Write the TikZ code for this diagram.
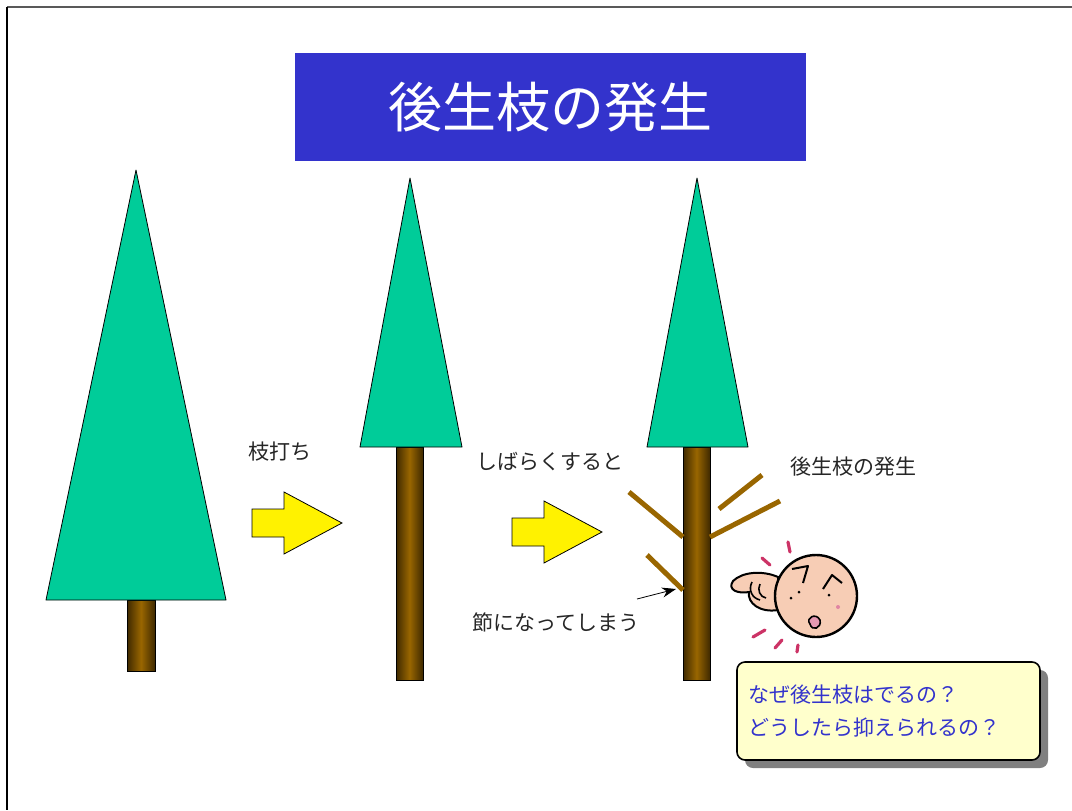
\documentclass[tikz,border=0pt]{standalone}
\usepackage{fontspec}
\setmainfont{Noto Sans CJK JP}
\usepackage{tikz}
\usetikzlibrary{arrows.meta, shadows}

\definecolor{titleblue}{HTML}{3333CC}
\definecolor{crown}{HTML}{00CC99}
\definecolor{wood}{HTML}{996600}
\definecolor{darkwood}{HTML}{3F2900}
\definecolor{note}{HTML}{FFFFCC}
\definecolor{skin}{HTML}{F7CDB5}
\definecolor{blush}{HTML}{CC3366}

\begin{document}
\begin{tikzpicture}[x=0.5pt, y=-0.5pt,
  crownshape/.style={fill=crown, draw=black, line join=round},
  trunkshape/.style={left color=darkwood, right color=darkwood, middle color=wood, draw=black},
  blockarrow/.style={fill=yellow, draw=black, line join=miter},
  sprout/.style={wood, line width=2.5pt},
  caption/.style={font=\fontsize{10.5}{12}\selectfont, text=black!85},
  qbox/.style={draw=black, fill=note, rounded corners=4pt, thick,
    minimum width=151.5pt, minimum height=49pt, text width=140.5pt, align=left,
    font=\fontsize{10.5}{16.5}\selectfont, text=titleblue,
    drop shadow={shadow xshift=4pt, shadow yshift=-4pt, fill=gray, opacity=1}},
  pinkmark/.style={blush, line width=1.6pt, line cap=round}]
\useasboundingbox (0,0) rectangle (1072,810);
% frame lines
\draw[black!65, line width=1pt] (7,7) -- (1072,7);
\draw[black, line width=1pt] (7,7) -- (7,810);

\node[fill=titleblue, minimum width=255.5pt, minimum height=54pt,
  text=white, font=\fontsize{27}{32}\selectfont] (title) at (550.5,107) {後生枝の発生};

% trees: trunk first, crown on top
\draw[trunkshape] (127,600) rectangle (155,671);
\draw[crownshape] (136,170) -- (226,600) -- (46,600) -- cycle;
\draw[trunkshape] (396,447) rectangle (423,680);
\draw[crownshape] (410,178) -- (462,447) -- (360,447) -- cycle;
\draw[trunkshape] (683,447) rectangle (710,680);
\draw[crownshape] (697,178) -- (748,447) -- (647,447) -- cycle;

% new shoots on the last trunk
\draw[sprout] (629,492) -- (683,537);
\draw[sprout] (647,555) -- (683,590);
\draw[sprout] (762,475) -- (719,509);
\draw[sprout] (780,501) -- (710,537);

\foreach \dx/\dy in {0/0, 260/9}
  \filldraw[blockarrow, shift={(\dx,\dy)}] (252,509) -- (284,509) -- (284,492)
    -- (342,523) -- (284,554) -- (284,537) -- (252,537) -- cycle;

\node[caption] (prune) at (280,452) {枝打ち};
\node[caption] (later) at (550,462) {しばらくすると};
\node[caption] (sprouts) at (853,467) {後生枝の発生};
\node[caption] (knot) at (556,622) {節になってしまう};
\coordinate (knottail) at (637,599);
\coordinate (knothead) at (676,589);
\draw[-{Stealth[length=7pt,width=5pt]}, thin] (knottail) -- (knothead);

% puzzled face
\filldraw[skin, draw=black, line width=1pt] (778,577) .. controls (762,570) and (742,572) .. (733,581)
  .. controls (727,590) and (738,594) .. (749,592) .. controls (747,603) and (760,613) .. (778,610) -- cycle;
\draw[black, line width=0.8pt] (752,582) .. controls (748,590) and (752,598) .. (760,600);
\draw[black, line width=0.8pt] (760,584) .. controls (757,590) and (760,597) .. (766,598);
\filldraw[skin, draw=black, line width=1.2pt] (816,596) circle (41);
\draw[black, line width=1pt, line join=round] (792,569) -- (808,566) -- (803,583);
\draw[black, line width=1pt, line join=round] (823,589) -- (832,575) -- (842,583);
\fill (799,592) circle (1.5) (791,598) circle (1.5) (829,595) circle (1.5);
\fill[blush!60] (838,607) circle (2);
\filldraw[blush!50, draw=black, line width=0.8pt] (810,624) .. controls (805,618) and (816,612) .. (820,620)
  .. controls (822,628) and (812,632) .. (810,624) -- cycle;
\draw[pinkmark] (788,542) -- (790,552);
\draw[pinkmark] (762,558) -- (770,565);
\draw[pinkmark] (753,637) -- (765,630);
\draw[pinkmark] (775,648) -- (782,640);
\draw[pinkmark] (797,652) -- (798,645);

\node[qbox] (question) at (888.5,711) {なぜ後生枝はでるの？\\どうしたら抑えられるの？};
\end{tikzpicture}
\end{document}
